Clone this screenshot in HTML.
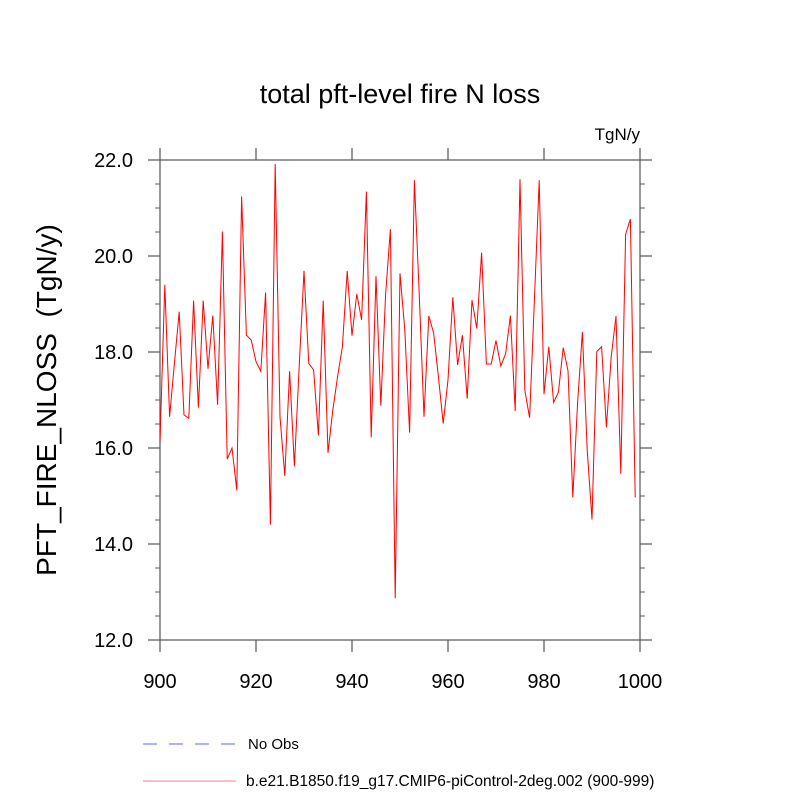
<!DOCTYPE html>
<html><head><meta charset="utf-8"><style>
body{margin:0;background:#fff}
svg{display:block;font-family:"Liberation Sans",sans-serif}
</style></head><body>
<svg id="c" width="800" height="800" viewBox="0 0 800 800">
<rect width="800" height="800" fill="#fff"/>
<text x="400" y="103" font-size="27" text-anchor="middle">total pft-level fire N loss</text>
<text x="640" y="140" font-size="17" text-anchor="end">TgN/y</text>
<text transform="translate(56,400) rotate(-90)" font-size="28" text-anchor="middle" xml:space="preserve">PFT_FIRE_NLOSS  (TgN/y)</text>
<g id="axes"></g>
<g id="series"></g>
<g>
<line x1="143" y1="744" x2="238" y2="744" stroke="#6060ff" stroke-width="1" stroke-dasharray="14,12"/>
<text x="248" y="749" font-size="15">No Obs</text>
<line x1="143" y1="781" x2="236" y2="781" stroke="#f08080" stroke-width="1"/>
<text x="246" y="786" font-size="15.5">b.e21.B1850.f19_g17.CMIP6-piControl-2deg.002 (900-999)</text>
</g>
</svg>
<script>
const years=[];for(let y=900;y<=999;y++)years.push(y);
const values=[16.13,19.40,16.65,17.76,18.84,16.69,16.62,19.07,16.84,19.07,
17.65,18.76,16.90,20.51,15.77,16.00,15.12,21.24,18.35,18.25,
17.80,17.60,19.24,14.40,21.92,16.65,15.42,17.60,15.62,17.70,
19.69,17.76,17.63,16.26,19.07,15.90,16.79,17.49,18.11,19.69,
18.34,19.21,18.67,21.34,16.22,19.58,16.88,19.20,20.56,12.87,
19.64,18.46,16.32,21.58,19.22,16.65,18.75,18.40,17.49,16.51,
17.42,19.14,17.73,18.35,17.03,19.08,18.49,20.07,17.75,17.75,
18.24,17.71,17.96,18.76,16.77,21.60,17.21,16.63,19.08,21.58,
17.12,18.11,16.95,17.16,18.09,17.61,14.97,16.94,18.42,15.96,
14.51,18.01,18.11,16.43,17.90,18.75,15.46,20.45,20.77,14.97];
const xTicks=[900,920,940,960,980,1000];
const yTicks=[12,14,16,18,20,22];
const X0=160,X1=640,Y0=160,Y1=640;
const sx=v=>X0+(v-900)/100*(X1-X0);
const sy=v=>Y1-(v-12)/10*(Y1-Y0);
const NS="http://www.w3.org/2000/svg";
const ax=document.getElementById('axes');
const AC='#555';
function mk(t,a,p){const e=document.createElementNS(NS,t);for(const k in a)e.setAttribute(k,a[k]);(p||ax).appendChild(e);return e;}
const fr=mk('rect',{x:X0,y:Y0,width:X1-X0,height:Y1-Y0,fill:'none',stroke:AC,'stroke-width':1.2});


xTicks.forEach(v=>{const x=sx(v);
mk('line',{x1:x,y1:Y1,x2:x,y2:Y1+12,stroke:AC,'stroke-width':1.2});mk('line',{x1:x,y1:Y0,x2:x,y2:Y0-12,stroke:AC,'stroke-width':1.2});});
for(let v=12;v<=22.001;v+=0.5){const y=sy(v),major=Math.abs(v%2)<0.01,L=major?12:5;
mk('line',{x1:X0,y1:y,x2:X0-L,y2:y,stroke:AC,'stroke-width':major?1.2:1});mk('line',{x1:X1,y1:y,x2:X1+L,y2:y,stroke:AC,'stroke-width':major?1.2:1});}
xTicks.forEach(v=>{const t=mk('text',{x:sx(v),y:688,'font-size':20,'text-anchor':'middle'});t.textContent=v;

});
yTicks.forEach(v=>{const t=mk('text',{x:133,y:sy(v)+7,'font-size':20,'text-anchor':'end'});t.textContent=v.toFixed(1);

});
const pts=years.map((y,i)=>sx(y)+','+sy(values[i])).join(' ');
const pl=mk('polyline',{points:pts,fill:'none',stroke:'#ff0000','stroke-width':1},document.getElementById('series'));


</script>
</body></html>
